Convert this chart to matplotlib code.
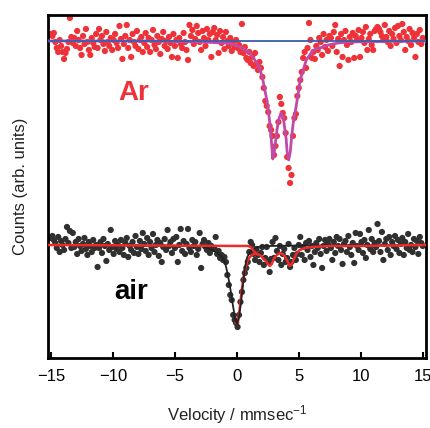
import numpy as np
import matplotlib.pyplot as plt

plt.rcParams['font.family'] = ['Liberation Sans', 'DejaVu Sans']
plt.rcParams['mathtext.default'] = 'regular'

# channel velocities (mm/s), 256 channels
v_start, v_stop, n_ch = -15.0, 15.0, 256

# Ar sample counts (arb.)
ar_counts = [
    324, 322, 325, 316, 310, 306, 318, 312, 306, 299, 305, 309, 316, 340, 321, 315,
    320, 312, 327, 318, 310, 303, 322, 314, 329, 316, 308, 303, 320, 315, 311, 324,
    310, 329, 318, 322, 314, 307, 326, 316, 312, 320, 308, 318, 324, 315, 310, 332,
    319, 299, 314, 322, 333, 310, 318, 301, 324, 316, 312, 327, 309, 318, 321, 306,
    315, 325, 311, 320, 306, 318, 328, 313, 309, 322, 316, 304, 319, 326, 312, 317,
    309, 321, 315, 301, 324, 312, 318, 300, 320, 314, 310, 325, 316, 308, 298, 333,
    322, 328, 314, 319, 332, 325, 316, 308, 327, 320, 312, 329, 318, 324, 301, 326,
    330, 318, 323, 305, 327, 315, 321, 309, 326, 317, 312, 320, 307, 316, 311, 318,
    310, 313, 306, 334, 305, 311, 300, 298, 306, 295, 301, 292, 305, 294, 288, 296,
    290, 281, 270, 257, 252, 246, 232, 228, 222, 203, 212, 222, 236, 261, 254, 245,
    240, 225, 201, 190, 175, 183, 222, 240, 244, 262, 270, 278, 286, 300, 306, 290,
    310, 335, 318, 300, 306, 299, 312, 308, 320, 316, 303, 324, 311, 318, 307, 322,
    320, 312, 326, 333, 306, 319, 292, 324, 301, 318, 327, 313, 298, 321, 316, 325,
    300, 322, 318, 328, 301, 320, 326, 315, 331, 308, 319, 324, 313, 308, 327, 329,
    331, 329, 326, 322, 318, 333, 321, 316, 327, 312, 324, 319, 330, 315, 332, 322,
    318, 334, 326, 308, 321, 317, 329, 313, 325, 320, 301, 324, 316, 328, 314, 320,
]

# air sample counts (arb.)
air_counts = [
    120, 122, 118, 115, 110, 121, 106, 117, 113, 108, 119, 131, 115, 127, 110, 125,
    111, 116, 104, 119, 112, 107, 114, 120, 109, 103, 116, 112, 106, 118, 110, 113,
    91, 110, 116, 105, 119, 112, 97, 114, 108, 128, 111, 104, 117, 109, 113, 106,
    118, 110, 103, 115, 120, 101, 112, 108, 116, 105, 122, 111, 104, 117, 109, 125,
    114, 107, 120, 103, 116, 110, 124, 106, 113, 118, 102, 115, 96, 111, 119, 108,
    128, 112, 116, 105, 119, 110, 121, 96, 113, 129, 107, 117, 104, 114, 129, 110,
    106, 118, 112, 116, 103, 109, 125, 90, 114, 118, 111, 108, 115, 105, 112, 109,
    110, 121, 104, 107, 100, 103, 98, 101, 96, 83, 73, 63, 58, 43, 38, 35,
    31, 43, 56, 66, 78, 85, 90, 96, 106, 116, 113, 104, 98, 109, 103, 96,
    105, 111, 93, 100, 111, 96, 86, 99, 116, 100, 120, 107, 98, 112, 93, 104,
    109, 96, 100, 114, 91, 96, 103, 110, 98, 104, 113, 121, 103, 111, 98, 115,
    108, 117, 101, 112, 93, 106, 115, 110, 119, 104, 90, 112, 118, 107, 114, 119,
    110, 98, 116, 105, 121, 112, 119, 108, 94, 114, 117, 106, 122, 111, 103, 115,
    95, 125, 112, 108, 124, 116, 105, 118, 100, 113, 128, 109, 119, 106, 115, 111,
    134, 117, 106, 126, 98, 114, 119, 108, 121, 103, 116, 112, 122, 109, 118, 105,
    114, 120, 103, 116, 110, 124, 108, 113, 106, 119, 111, 117, 104, 121, 115, 112,
]

# Ar fit (magenta) and baseline (blue)
ar_fit_v = [-15.25, -7.0, -3.0, -1.0, -0.15, 0.4, 1.05, 1.45, 1.85, 2.1, 2.26, 2.42,
            2.54, 2.66, 2.78, 2.9, 3.02, 3.14, 3.26, 3.42, 3.58, 3.74, 3.86, 3.98,
            4.06, 4.18, 4.31, 4.43, 4.55, 4.71, 4.87, 5.11, 5.36, 5.6, 6.0, 6.33,
            6.98, 7.38, 8.19, 9.0, 15.25]
ar_fit_y = [317, 317, 316, 315, 313, 310, 305, 298, 290, 278, 268, 258,
            248, 235, 218, 199, 206, 218, 230, 240, 245, 241, 230, 219,
            206, 198, 206, 222, 235, 246, 258, 278, 288, 298, 305, 309,
            311, 313, 315, 316, 317]
ar_base = 317

# air fits: red (total) and black (singlet)
air_red_v = [-15.25, 0.89, 1.13, 1.37, 1.61, 1.85, 2.10, 2.34, 2.50, 2.66, 2.82,
             2.98, 3.23, 3.47, 3.71, 3.95, 4.11, 4.27, 4.44, 4.60, 4.84, 5.08,
             5.48, 6.05, 7.5, 9.92, 15.25]
air_red_y = [113, 112, 111, 107, 104, 103, 100, 97, 94, 92, 94,
             99, 103, 105, 104, 100, 96, 92, 94, 99, 105, 108,
             110, 111, 112, 112, 113]
air_red_dip_v = [-0.08, 0.08, 0.24, 0.40, 0.56, 0.73, 0.89, 1.13, 1.37, 1.61]
air_red_dip_y = [35, 35, 50, 68, 82, 92, 98, 102, 104, 104]

air_fit_v = [-15.25, -2.98, -2.34, -1.85, -1.53, -1.21, -0.97, -0.81, -0.65, -0.48,
             -0.32, -0.16, 0.0, 0.16, 0.32, 0.48, 0.65, 0.81, 1.05, 1.37, 1.69,
             2.66, 5.08, 15.25]
air_fit_y = [113, 112, 110, 107, 105, 101, 96, 88, 78, 66,
             53, 41, 34, 40, 54, 72, 90, 100, 106, 109, 111,
             112, 112.5, 113]

vel = np.linspace(v_start, v_stop, n_ch)

fig = plt.figure(figsize=(4.31, 4.28), dpi=100)
ax = fig.add_axes([0.111, 0.1636, 0.877, 0.8014])

ax.scatter(vel, ar_counts, s=20, color='#EF3237', edgecolors='none', zorder=2)
ax.plot(ar_fit_v, ar_fit_y, color='#C04AA8', lw=2.0, zorder=3)
ax.axhline(ar_base, color='#3A5DAE', lw=1.3, zorder=4)

ax.scatter(vel, air_counts, s=20, color='#303030', edgecolors='none', zorder=2)
ax.plot(air_red_dip_v, air_red_dip_y, color='#EE2A2A', lw=1.8, zorder=3)
ax.plot(air_fit_v, air_fit_y, color='#222222', lw=1.3, zorder=4)
ax.plot(air_red_v, air_red_y, color='#EE2A2A', lw=1.8, zorder=5)

ax.text(-8.3, 265, 'Ar', color='#EF3237', fontsize=20, fontweight='bold',
        ha='center', va='center')
ax.text(-8.55, 66, 'air', color='black', fontsize=20, fontweight='bold',
        ha='center', va='center')

ax.set_xlim(-15.25, 15.25)
ax.set_ylim(0, 343)
ax.set_xticks([-15, -10, -5, 0, 5, 10, 15])
ax.set_xticklabels(['\u221215', '\u221210', '\u22125', '0', '5', '10', '15'])
ax.set_yticks([])
ax.tick_params(axis='x', direction='in', length=4, width=1.5, labelsize=12, pad=8)
for sp in ax.spines.values():
    sp.set_linewidth(2.0)

ax.set_xlabel('Velocity / mmsec$^{-1}$', fontsize=12, labelpad=14, color='#222222')
ax.set_ylabel('Counts (arb. units)', fontsize=12, labelpad=14, color='#222222')

fig.savefig('out.png', dpi=100)
